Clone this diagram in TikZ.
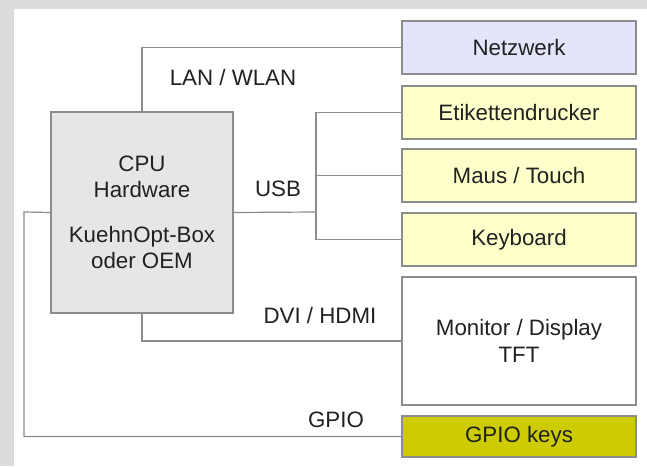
\documentclass[tikz,border=0pt]{standalone}
\usepackage{fontspec}
\setmainfont{Liberation Sans}
\usepackage{tikz}

\definecolor{rahmen}{HTML}{DCDCDC}
\definecolor{linie}{HTML}{8C8C8C}
\definecolor{netzfill}{HTML}{E4E4FC}
\definecolor{gelb}{HTML}{FFFFCC}
\definecolor{oliv}{HTML}{CCCC00}
\definecolor{cpufill}{HTML}{E6E6E6}

\begin{document}
\begin{tikzpicture}[x = 1pt, y = -1pt,
    box/.style = {draw=linie, line width=1.2pt, rectangle, inner sep=0pt,
      minimum width=234pt, align=center, text=black!87,
      font=\fontsize{22.3}{26.5}\selectfont},
    lbl/.style = {anchor=base, text=black!87, font=\fontsize{22.3}{26.5}\selectfont},
    wire/.style = {draw=linie, line width=1.2pt}]
        \fill[rahmen] (0,0) rectangle (647,466);
        \fill[white] (14,9) rectangle (647,466);
        \useasboundingbox (0,0) rectangle (647,466);
        \node[box, fill=cpufill, minimum width=182pt, minimum height=201pt] (cpu) at (142,212.5)
          {CPU\\Hardware\\[18pt]KuehnOpt-Box\\oder OEM};
        \node[box, fill=netzfill, minimum height=53pt] (netz) at (519,47.5) {Netzwerk};
        \node[box, fill=gelb, minimum height=53pt] (etikett) at (519,112.5) {Etikettendrucker};
        \node[box, fill=gelb, minimum height=53pt] (maus) at (519,175.5) {Maus / Touch};
        \node[box, fill=gelb, minimum height=53pt] (keyb) at (519,239.5) {Keyboard};
        \node[box, fill=white, minimum height=128pt] (monitor) at (519,341) {Monitor / Display\\TFT};
        \node[box, fill=oliv, minimum height=41pt] (gpio) at (519,436.5) {GPIO keys};
        \coordinate (bus) at (316,212);
        \coordinate (gpioknick) at (24,212);
        \draw[wire] (cpu.north) |- (netz.west);
        \draw[wire] (cpu.east) -- (bus);
        \draw[wire] (etikett.west) -| (bus) |- (keyb.west);
        \draw[wire] (maus.west) -- (maus.west -| bus);
        \draw[wire] (cpu.south) |- (monitor.west);
        \draw[wire] (cpu.west) -- (gpioknick) |- (gpio.west);
        \node[lbl] (lan) at (233,85) {LAN / WLAN};
        \node[lbl] (usb) at (278,196) {USB};
        \node[lbl] (dvi) at (320,323) {DVI / HDMI};
        \node[lbl] (gpiolbl) at (336,427) {GPIO};
      \end{tikzpicture}
\end{document}
